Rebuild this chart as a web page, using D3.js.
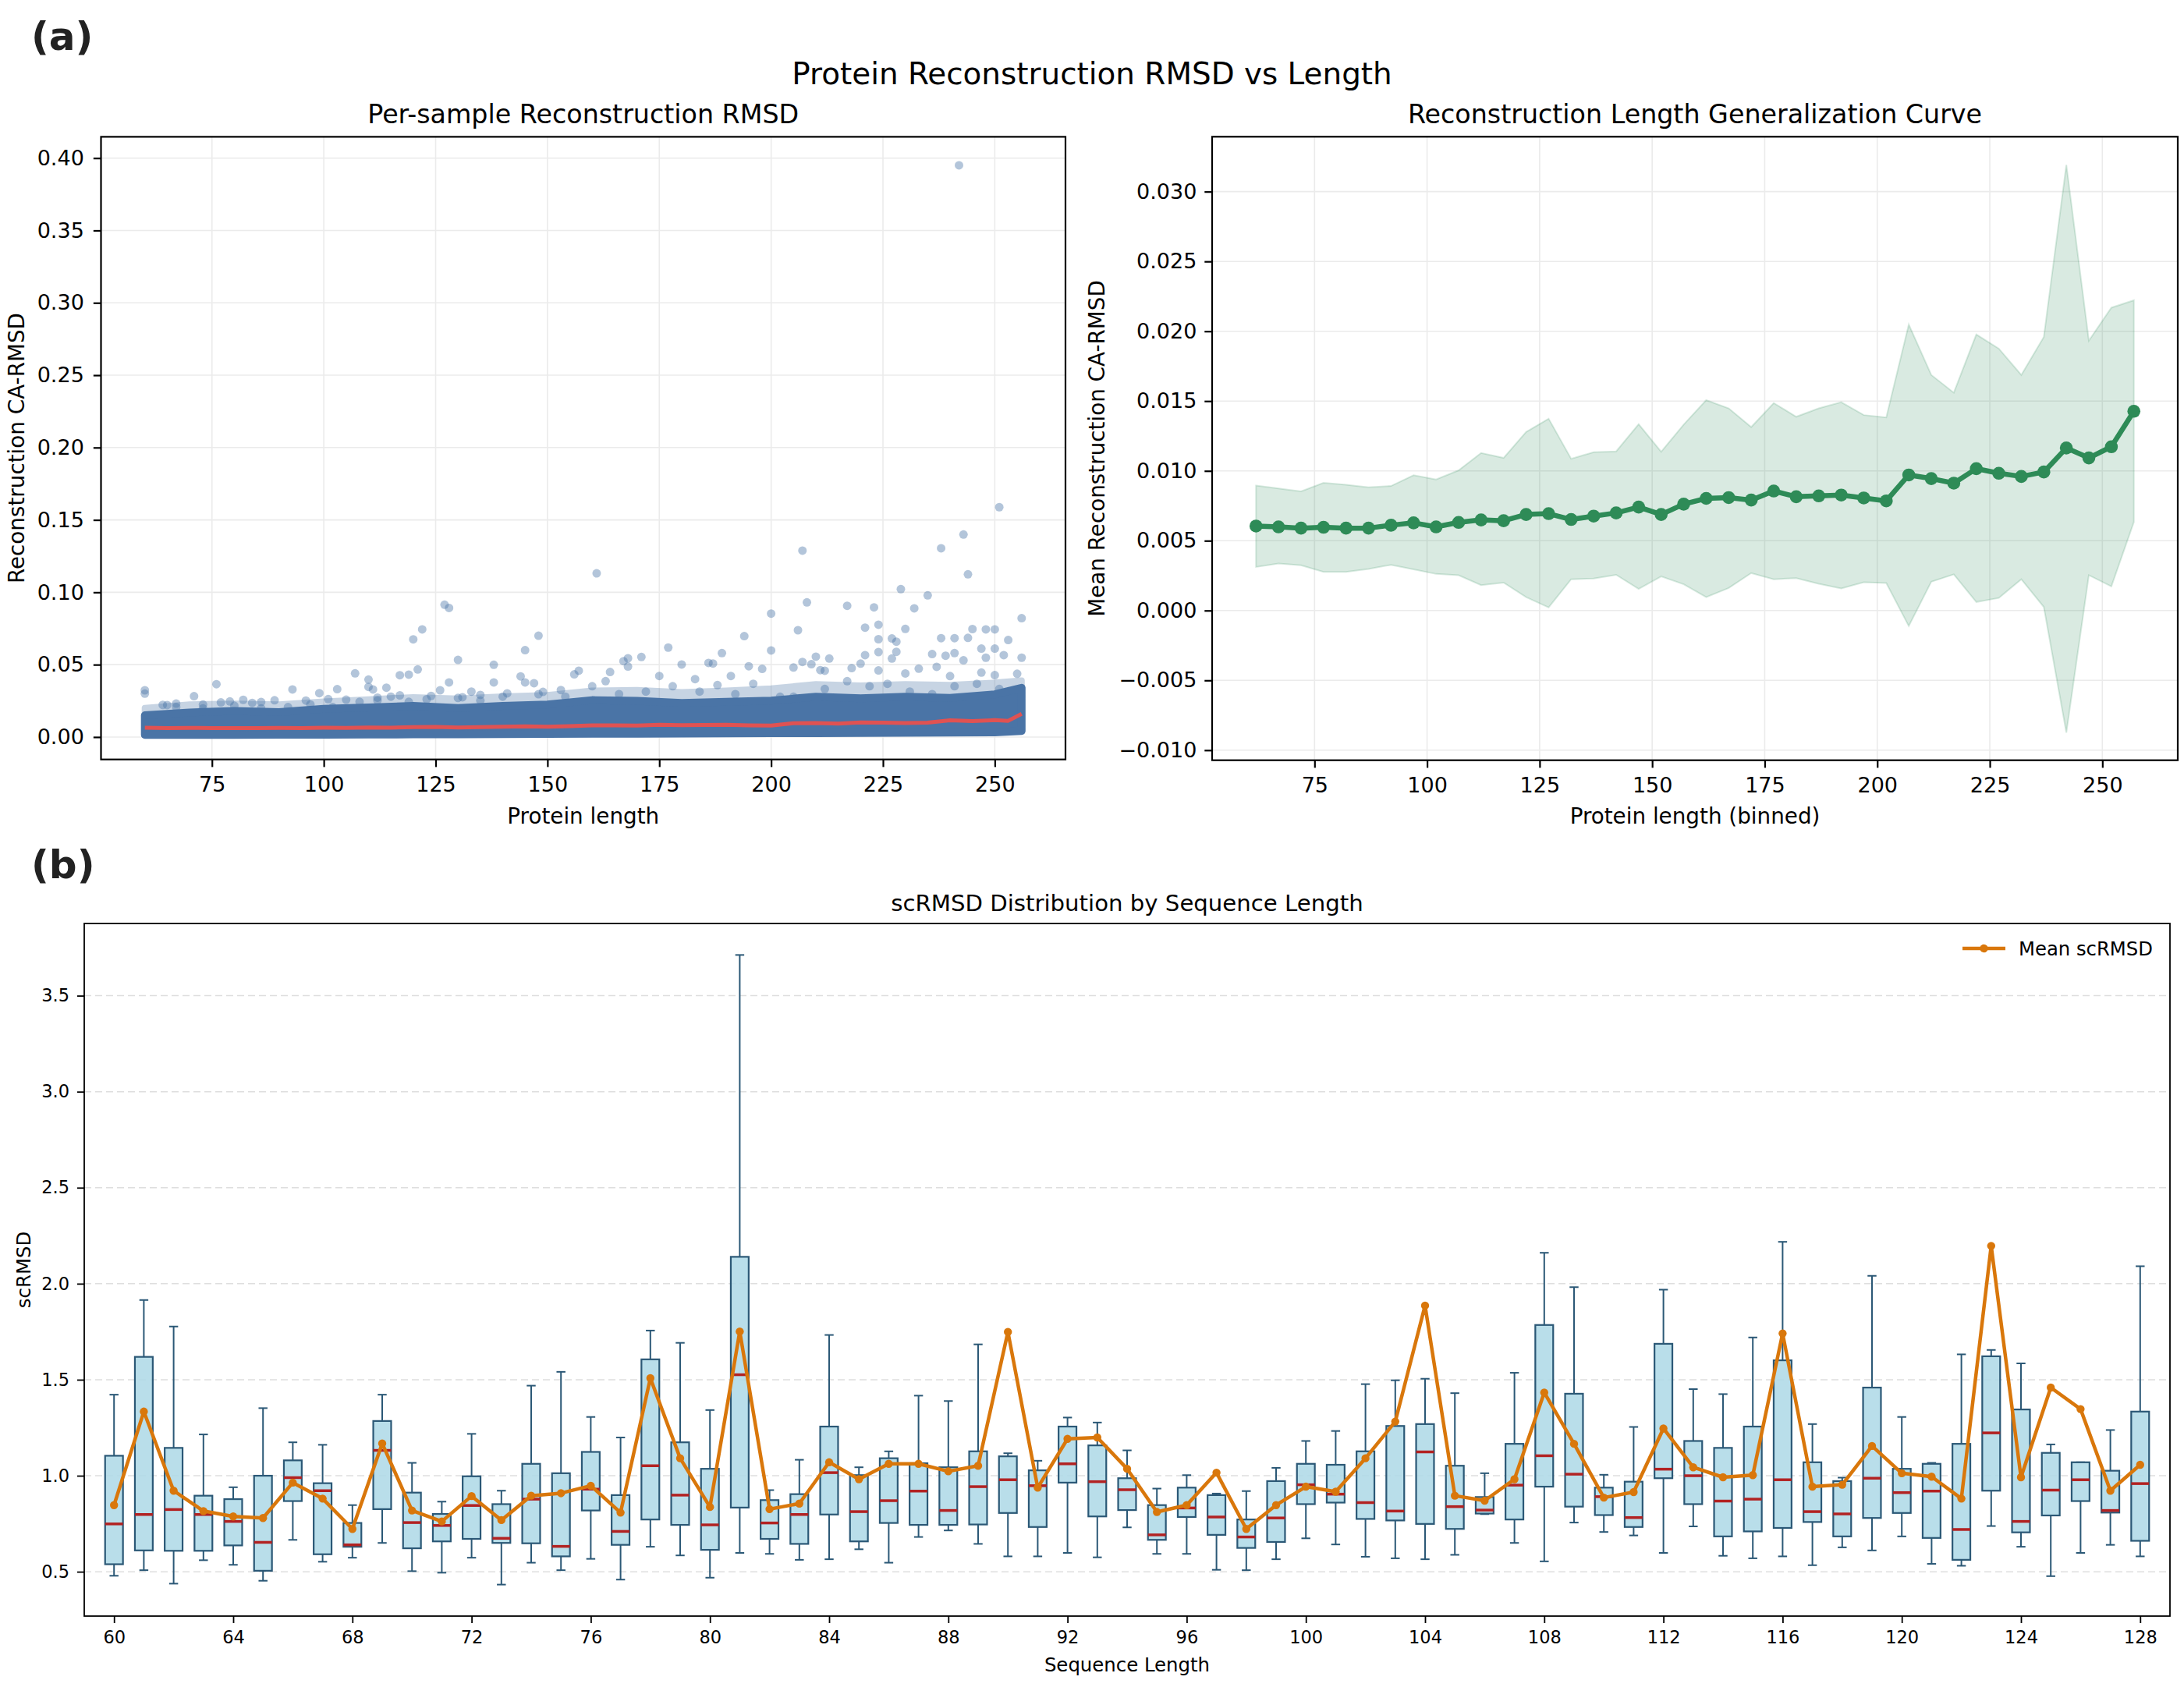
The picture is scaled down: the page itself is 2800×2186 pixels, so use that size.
<!DOCTYPE html>
<html>
<head>
<meta charset="utf-8" />
<title>Protein Reconstruction RMSD vs Length</title>
<script src="https://cdn.jsdelivr.net/npm/d3@7"></script>
<style>
  body { margin: 0; padding: 0; background: #fff; }
  svg { display: block; }
</style>
</head>
<body>
<script>

// ---------- (a) left: per-sample scatter ----------
var lenTicks = [75, 100, 125, 150, 175, 200, 225, 250];
var rmsdTicks = [0, 0.05, 0.10, 0.15, 0.20, 0.25, 0.30, 0.35, 0.40];

// dense core of the cloud, read every ~10 residues
var bandLen  = [60, 70, 80, 90, 100, 110, 120, 130, 140, 150, 160, 170, 180, 190, 200, 210, 220, 230, 240, 250, 256];
var bandLo   = [0.0015, 0.0015, 0.0015, 0.0016, 0.0016, 0.0017, 0.0018, 0.0019, 0.0020, 0.0021, 0.0022, 0.0023, 0.0024, 0.0025, 0.0026, 0.0027, 0.0028, 0.0029, 0.0030, 0.0032, 0.0041];
var bandHi   = [0.0150, 0.0170, 0.0180, 0.0172, 0.0195, 0.0205, 0.0215, 0.0200, 0.0215, 0.0225, 0.0255, 0.0250, 0.0235, 0.0243, 0.0252, 0.0278, 0.0268, 0.0278, 0.0270, 0.0295, 0.0340];
var haloHi   = [0.0200, 0.0225, 0.0230, 0.0225, 0.0245, 0.0260, 0.0275, 0.0265, 0.0280, 0.0290, 0.0320, 0.0325, 0.0310, 0.0320, 0.0335, 0.0365, 0.0355, 0.0365, 0.0360, 0.0375, 0.0390];

// sparse points above the core [length, rmsd]
var sparsePoints = [
  [60, 0.0323], [60, 0.0300], [76, 0.0365], [71, 0.0282], [93, 0.0329], [99, 0.0303], [103, 0.0331],
  [107, 0.0440], [110, 0.0397], [110, 0.0346], [114, 0.0341], [117, 0.0427], [119, 0.0431], [121, 0.0467],
  [120, 0.0675], [122, 0.0744], [127, 0.0914], [128, 0.0892], [130, 0.0533], [128, 0.0377], [126, 0.0323],
  [138, 0.0499], [138, 0.0377], [145, 0.0600], [148, 0.0700], [144, 0.0419], [145, 0.0377], [147, 0.0372],
  [133, 0.0314], [156, 0.0433], [157, 0.0458], [153, 0.0325], [115, 0.0279], [117, 0.0288], [111, 0.0329],
  [82, 0.0257], [89, 0.0254], [77, 0.0239], [65, 0.0221], [64, 0.0222], [67, 0.0231], [73, 0.0224],
  [79, 0.0246], [84, 0.0236], [86, 0.0242], [96, 0.0252], [101, 0.0262], [105, 0.0258], [112, 0.0272],
  [124, 0.0284], [131, 0.0275], [135, 0.0291], [141, 0.0302], [149, 0.0312],
  [67, 0.0207], [73, 0.0198], [80, 0.0216], [86, 0.0198], [92, 0.0207], [97, 0.0225], [102, 0.0207],
  [108, 0.0243], [112, 0.0252], [119, 0.0243], [123, 0.0261], [130, 0.0270], [135, 0.0252], [140, 0.0279],
  [148, 0.0296], [154, 0.0279],
  [160, 0.0351], [166, 0.0296], [172, 0.0314], [178, 0.0351], [184, 0.0314], [188, 0.0359], [192, 0.0296],
  [196, 0.0368], [202, 0.0278], [205, 0.0278], [212, 0.0332], [217, 0.0386], [222, 0.0351], [226, 0.0368],
  [231, 0.0314], [236, 0.0296], [241, 0.0351], [246, 0.0368], [251, 0.0332], [255, 0.0296],
  [161, 0.1131], [207, 0.1288], [243, 0.1399], [238, 0.1304], [244, 0.1124], [208, 0.0930], [200, 0.0853],
  [229, 0.1022], [235, 0.0979], [217, 0.0907], [223, 0.0896], [232, 0.0889], [256, 0.0821], [206, 0.0738],
  [245, 0.0746], [248, 0.0744], [250, 0.0744], [221, 0.0756], [224, 0.0776], [230, 0.0747], [194, 0.0697],
  [238, 0.0683], [241, 0.0683], [244, 0.0685], [253, 0.0670], [177, 0.0618], [189, 0.0580], [200, 0.0598],
  [224, 0.0676], [227, 0.0681], [228, 0.0659], [224, 0.0587], [228, 0.0589], [227, 0.0542], [221, 0.0566],
  [236, 0.0573], [239, 0.0562], [241, 0.0580], [247, 0.0611], [250, 0.0611], [256, 0.0548], [248, 0.0548],
  [252, 0.0566], [243, 0.0530], [210, 0.0555], [213, 0.0542], [171, 0.0553], [168, 0.0544], [167, 0.0524],
  [168, 0.0487], [164, 0.0449], [180, 0.0501], [186, 0.0512], [187, 0.0508], [195, 0.0489], [198, 0.0471],
  [205, 0.0480], [207, 0.0519], [209, 0.0503], [211, 0.0462], [218, 0.0476], [220, 0.0507], [233, 0.0472],
  [237, 0.0485], [247, 0.0445], [255, 0.0437], [250, 0.0428], [240, 0.0421], [230, 0.0439], [224, 0.0460],
  [212, 0.0458], [191, 0.0422], [175, 0.0422], [163, 0.0386], [183, 0.0400],
  [242, 0.3950], [251, 0.1588]
];

// rolling mean (red line) [length, rmsd]
var rollingMean = [
  [60, 0.0064], [65, 0.0062], [70, 0.0063], [75, 0.0062], [80, 0.0061], [85, 0.0062], [90, 0.0063],
  [95, 0.0062], [100, 0.0064], [105, 0.0063], [110, 0.0066], [115, 0.0065], [120, 0.0068], [125, 0.0070],
  [130, 0.0066], [135, 0.0069], [140, 0.0071], [145, 0.0074], [150, 0.0071], [155, 0.0075], [160, 0.0080],
  [165, 0.0081], [170, 0.0079], [175, 0.0085], [180, 0.0082], [185, 0.0083], [190, 0.0084], [195, 0.0081],
  [200, 0.0079], [205, 0.0095], [210, 0.0096], [215, 0.0092], [220, 0.0101], [225, 0.0099], [230, 0.0097],
  [235, 0.0099], [240, 0.0115], [245, 0.0110], [250, 0.0117], [253, 0.0112], [256, 0.0160]
];

// ---------- (a) right: binned curve ----------
var curveTicks = [-0.010, -0.005, 0, 0.005, 0.010, 0.015, 0.020, 0.025, 0.030];
var binLen   = [62, 67, 72, 77, 82, 87, 92, 97, 102, 107, 112, 117, 122, 127, 132, 137, 142, 147, 152, 157,
                162, 167, 172, 177, 182, 187, 192, 197, 202, 207, 212, 217, 222, 227, 232, 237, 242, 247, 252, 257];
var binMean  = [0.00605, 0.00599, 0.00590, 0.00596, 0.00590, 0.00590, 0.00611, 0.00628, 0.00599, 0.00631,
                0.00649, 0.00643, 0.00688, 0.00694, 0.00652, 0.00676, 0.00699, 0.00741, 0.00688, 0.00762,
                0.00803, 0.00809, 0.00791, 0.00856, 0.00815, 0.00821, 0.00827, 0.00806, 0.00785, 0.00971,
                0.00945, 0.00912, 0.01016, 0.00983, 0.00960, 0.00992, 0.01164, 0.01093, 0.01173, 0.01427];
var binUpper = [0.00895, 0.00874, 0.00853, 0.00915, 0.00901, 0.00883, 0.00892, 0.00969, 0.00939, 0.01004,
                0.01128, 0.01093, 0.01279, 0.01374, 0.01087, 0.01134, 0.01140, 0.01335, 0.01137, 0.01332,
                0.01507, 0.01448, 0.01314, 0.01486, 0.01388, 0.01448, 0.01492, 0.01400, 0.01383, 0.02048,
                0.01687, 0.01560, 0.01977, 0.01876, 0.01687, 0.01959, 0.03192, 0.01933, 0.02169, 0.02222];
var binLower = [0.00312, 0.00336, 0.00324, 0.00277, 0.00277, 0.00298, 0.00327, 0.00295, 0.00262, 0.00253,
                0.00182, 0.00200, 0.00096, 0.00022, 0.00224, 0.00229, 0.00256, 0.00155, 0.00244, 0.00188,
                0.00096, 0.00161, 0.00268, 0.00224, 0.00232, 0.00191, 0.00158, 0.00203, 0.00197, -0.00111,
                0.00206, 0.00259, 0.00061, 0.00090, 0.00224, 0.00025, -0.00874, 0.00253, 0.00173, 0.00634];

// ---------- (b) scRMSD box plot ----------
var seqTicks = [60, 64, 68, 72, 76, 80, 84, 88, 92, 96, 100, 104, 108, 112, 116, 120, 124, 128];
var scTicks  = [0.5, 1.0, 1.5, 2.0, 2.5, 3.0, 3.5];
var seqLen = [60, 61, 62, 63, 64, 65, 66, 67, 68, 69, 70, 71, 72, 73, 74, 75, 76, 77, 78, 79, 80, 81, 82,
              83, 84, 85, 86, 87, 88, 89, 90, 91, 92, 93, 94, 95, 96, 97, 98, 99, 100, 101, 102, 103, 104,
              105, 106, 107, 108, 109, 110, 111, 112, 113, 114, 115, 116, 117, 118, 119, 120, 121, 122, 123,
              124, 125, 126, 127, 128];
var whiskLo = [0.479, 0.508, 0.438, 0.560, 0.536, 0.453, 0.666, 0.552, 0.573, 0.650, 0.503, 0.495, 0.573, 0.433,
               0.547, 0.508, 0.567, 0.459, 0.630, 0.585, 0.469, 0.598, 0.593, 0.562, 0.565, 0.617, 0.547, 0.681,
               0.715, 0.645, 0.580, 0.580, 0.598, 0.575, 0.731, 0.593, 0.593, 0.510, 0.508, 0.565, 0.674, 0.642,
               0.578, 0.570, 0.565, 0.588, 0.800, 0.650, 0.554, 0.756, 0.707, 0.689, 0.598, 0.736, 0.583, 0.570,
               0.580, 0.534, 0.627, 0.611, 0.684, 0.541, 0.531, 0.738, 0.630, 0.477, 0.598, 0.640, 0.580];
var q1      = [0.539, 0.611, 0.609, 0.609, 0.637, 0.505, 0.868, 0.591, 0.630, 0.826, 0.622, 0.658, 0.671, 0.650,
               0.648, 0.580, 0.819, 0.640, 0.772, 0.744, 0.614, 0.834, 0.671, 0.645, 0.798, 0.658, 0.754, 0.744,
               0.744, 0.746, 0.806, 0.733, 0.964, 0.788, 0.821, 0.666, 0.785, 0.692, 0.624, 0.655, 0.852, 0.860,
               0.775, 0.767, 0.749, 0.723, 0.803, 0.772, 0.943, 0.839, 0.795, 0.733, 0.987, 0.852, 0.684, 0.710,
               0.728, 0.759, 0.684, 0.780, 0.806, 0.676, 0.562, 0.922, 0.705, 0.793, 0.868, 0.808, 0.661];
var median  = [0.749, 0.798, 0.824, 0.798, 0.762, 0.653, 0.990, 0.922, 0.640, 1.132, 0.756, 0.741, 0.845, 0.674,
               0.878, 0.632, 0.930, 0.710, 1.052, 0.899, 0.744, 1.526, 0.754, 0.798, 1.016, 0.813, 0.870, 0.920,
               0.819, 0.943, 0.979, 0.948, 1.062, 0.969, 0.927, 0.692, 0.832, 0.785, 0.681, 0.780, 0.953, 0.904,
               0.860, 0.816, 1.124, 0.839, 0.821, 0.951, 1.104, 1.008, 0.891, 0.782, 1.034, 1.000, 0.868, 0.878,
               0.979, 0.813, 0.801, 0.987, 0.912, 0.920, 0.720, 1.223, 0.762, 0.925, 0.979, 0.819, 0.959];
var q3      = [1.104, 1.619, 1.145, 0.896, 0.878, 1.000, 1.080, 0.961, 0.754, 1.285, 0.912, 0.801, 0.997, 0.852,
               1.062, 1.013, 1.124, 0.899, 1.606, 1.174, 1.036, 2.140, 0.873, 0.904, 1.256, 1.003, 1.091, 1.065,
               1.044, 1.127, 1.101, 1.028, 1.256, 1.158, 0.987, 0.847, 0.938, 0.899, 0.772, 0.972, 1.062, 1.057,
               1.127, 1.259, 1.269, 1.052, 0.889, 1.166, 1.785, 1.427, 0.938, 0.969, 1.687, 1.181, 1.145, 1.256,
               1.601, 1.070, 0.972, 1.459, 1.036, 1.062, 1.166, 1.622, 1.345, 1.119, 1.070, 1.026, 1.334];
var whiskHi = [1.422, 1.915, 1.777, 1.215, 0.940, 1.352, 1.174, 1.161, 0.847, 1.422, 1.067, 0.865, 1.218, 0.922,
               1.469, 1.541, 1.306, 1.199, 1.756, 1.692, 1.342, 3.712, 0.925, 1.083, 1.733, 1.044, 1.127, 1.417,
               1.389, 1.684, 1.117, 1.078, 1.303, 1.277, 1.132, 0.933, 1.003, 0.907, 0.920, 1.041, 1.181, 1.233,
               1.477, 1.497, 1.505, 1.430, 1.013, 1.536, 2.161, 1.982, 1.005, 1.254, 1.969, 1.451, 1.425, 1.720,
               2.218, 1.269, 0.990, 2.041, 1.306, 1.067, 1.632, 1.655, 1.585, 1.163, 1.070, 1.238, 2.091];
var meanSc  = [0.847, 1.334, 0.922, 0.816, 0.788, 0.780, 0.964, 0.881, 0.723, 1.168, 0.819, 0.762, 0.894, 0.769,
               0.896, 0.909, 0.948, 0.808, 1.508, 1.091, 0.837, 1.751, 0.826, 0.855, 1.070, 0.982, 1.062, 1.062,
               1.023, 1.052, 1.749, 0.938, 1.192, 1.199, 1.036, 0.811, 0.847, 1.016, 0.723, 0.847, 0.943, 0.917,
               1.091, 1.282, 1.886, 0.896, 0.870, 0.982, 1.433, 1.166, 0.886, 0.915, 1.246, 1.044, 0.992, 1.003,
               1.741, 0.943, 0.953, 1.155, 1.013, 0.995, 0.881, 2.197, 0.992, 1.459, 1.347, 0.922, 1.057];

var FONT = "'DejaVu Sans', sans-serif";

var svg = d3.select("body").append("svg")
    .attr("width", 2800)
    .attr("height", 2186)
    .style("font-family", FONT);

svg.append("rect").attr("width", 2800).attr("height", 2186).attr("fill", "#fff");

// draws grid, ticks and frame for one axes box
function axesBox(x, y, opt) {
  var g = svg.append("g");
  var xl = x.range()[0], xr = x.range()[1], yb = y.range()[0], yt = y.range()[1];

  if (opt.gridX) {
    g.append("g").selectAll("line").data(opt.xTicks).enter().append("line")
      .attr("x1", function(d) { return x(d); }).attr("x2", function(d) { return x(d); })
      .attr("y1", yt).attr("y2", yb)
      .attr("stroke", opt.gridColor).attr("stroke-width", opt.gridWidth);
  }
  g.append("g").selectAll("line").data(opt.yTicks).enter().append("line")
    .attr("x1", xl).attr("x2", xr)
    .attr("y1", function(d) { return y(d); }).attr("y2", function(d) { return y(d); })
    .attr("stroke", opt.gridColor).attr("stroke-width", opt.gridWidth)
    .attr("stroke-dasharray", opt.gridDash || null);

  var ax = g.append("g").attr("transform", "translate(0," + yb + ")")
    .call(d3.axisBottom(x).tickValues(opt.xTicks).tickFormat(opt.xFmt || d3.format("d"))
      .tickSize(opt.tickLen).tickPadding(opt.xPad));
  var ay = g.append("g").attr("transform", "translate(" + xl + ",0)")
    .call(d3.axisLeft(y).tickValues(opt.yTicks).tickFormat(opt.yFmt)
      .tickSize(opt.tickLen).tickPadding(opt.yPad));

  [ax, ay].forEach(function(a) {
    a.attr("font-family", FONT).attr("font-size", opt.tickFont);
    a.select(".domain").remove();
    a.selectAll(".tick line").attr("stroke", "#000").attr("stroke-width", opt.spineWidth);
    a.selectAll(".tick text").attr("fill", "#000");
  });
  return g;
}

function frame(x, y, w) {
  svg.append("rect")
    .attr("x", x.range()[0]).attr("y", y.range()[1])
    .attr("width", x.range()[1] - x.range()[0])
    .attr("height", y.range()[0] - y.range()[1])
    .attr("fill", "none").attr("stroke", "#000").attr("stroke-width", w);
}

function label(txt, x, y, size, opts) {
  opts = opts || {};
  var t = svg.append("text")
    .attr("x", x).attr("y", y)
    .attr("font-size", size)
    .attr("text-anchor", opts.anchor || "middle")
    .attr("fill", opts.fill || "#000")
    .attr("font-weight", opts.weight || "normal")
    .text(txt);
  if (opts.rotate) t.attr("transform", "rotate(-90," + x + "," + y + ")");
  return t;
}

// ---------------- headings ----------------
label("(a)", 40, 64, 50, { anchor: "start", weight: "bold", fill: "#222" });
label("(b)", 40, 1126, 50, { anchor: "start", weight: "bold", fill: "#222" });
label("Protein Reconstruction RMSD vs Length", 1400, 108, 38.9);

// ---------------- (a) left ----------------
var xA = d3.scaleLinear().domain([50.2, 265.8]).range([129.5, 1366]);
var yA = d3.scaleLinear().domain([-0.0155, 0.4147]).range([973.7, 175.4]);

axesBox(xA, yA, {
  xTicks: lenTicks, yTicks: rmsdTicks, yFmt: d3.format(".2f"),
  gridX: true, gridColor: "#ebebeb", gridWidth: 1.6,
  tickLen: 9.7, xPad: 12, yPad: 12, tickFont: 27, spineWidth: 2.2
});

var ptColor = "#4a74a6";
var haloArea = d3.area()
  .x(function(d, i) { return xA(bandLen[i]); })
  .y0(function(d, i) { return yA(bandLo[i]); })
  .y1(function(d, i) { return yA(haloHi[i]); });
var coreArea = d3.area()
  .x(function(d, i) { return xA(bandLen[i]); })
  .y0(function(d, i) { return yA(bandLo[i]); })
  .y1(function(d, i) { return yA(bandHi[i]); });

svg.append("g").attr("opacity", 0.3)
  .append("path").datum(bandLen).attr("d", haloArea)
  .attr("fill", ptColor).attr("stroke", ptColor)
  .attr("stroke-width", 8).attr("stroke-linejoin", "round");

svg.append("g").selectAll("circle").data(sparsePoints).enter().append("circle")
  .attr("cx", function(d) { return xA(d[0]); })
  .attr("cy", function(d) { return yA(d[1]); })
  .attr("r", 5.5)
  .attr("fill", ptColor).attr("fill-opacity", 0.42);

svg.append("path").datum(bandLen).attr("d", coreArea)
  .attr("fill", ptColor).attr("stroke", ptColor)
  .attr("stroke-width", 10).attr("stroke-linejoin", "round");

svg.append("path").datum(rollingMean)
  .attr("d", d3.line().x(function(d) { return xA(d[0]); }).y(function(d) { return yA(d[1]); }))
  .attr("fill", "none").attr("stroke", "#e05252").attr("stroke-width", 5)
  .attr("stroke-linejoin", "round");

frame(xA, yA, 2.2);
label("Per-sample Reconstruction RMSD", (129.5 + 1366) / 2, 158, 33.3);
label("Protein length", (129.5 + 1366) / 2, 1056, 27.8);
label("Reconstruction CA-RMSD", 31, (175.4 + 973.7) / 2, 27.8, { rotate: true });

// ---------------- (a) right ----------------
var xC = d3.scaleLinear().domain([52.25, 266.75]).range([1554, 2792]);
var yC = d3.scaleLinear().domain([-0.01072, 0.03393]).range([974.7, 175.3]);

axesBox(xC, yC, {
  xTicks: lenTicks, yTicks: curveTicks, yFmt: d3.format(".3f"),
  gridX: true, gridColor: "#ebebeb", gridWidth: 1.6,
  tickLen: 9.7, xPad: 12, yPad: 10, tickFont: 27, spineWidth: 2.2
});

var green = "#2e8b57";
svg.append("path").datum(binLen)
  .attr("d", d3.area()
    .x(function(d) { return xC(d); })
    .y0(function(d, i) { return yC(binLower[i]); })
    .y1(function(d, i) { return yC(binUpper[i]); }))
  .attr("fill", green).attr("fill-opacity", 0.18)
  .attr("stroke", green).attr("stroke-opacity", 0.18).attr("stroke-width", 2);

svg.append("path").datum(binLen)
  .attr("d", d3.line().x(function(d) { return xC(d); }).y(function(d, i) { return yC(binMean[i]); }))
  .attr("fill", "none").attr("stroke", green).attr("stroke-width", 6.5)
  .attr("stroke-linejoin", "round");

svg.append("g").selectAll("circle").data(binLen).enter().append("circle")
  .attr("cx", function(d) { return xC(d); })
  .attr("cy", function(d, i) { return yC(binMean[i]); })
  .attr("r", 8.3).attr("fill", green);

frame(xC, yC, 2.2);
label("Reconstruction Length Generalization Curve", (1554 + 2792) / 2, 158, 33.3);
label("Protein length (binned)", (1554 + 2792) / 2, 1056, 27.8);
label("Mean Reconstruction CA-RMSD", 1416, (175.3 + 974.7) / 2, 27.8, { rotate: true });

// ---------------- (b) ----------------
var xB = d3.scaleLinear().domain([59, 129]).range([108, 2782]);
var yB = d3.scaleLinear().domain([0.269, 3.876]).range([2072, 1184]);

axesBox(xB, yB, {
  xTicks: seqTicks, yTicks: scTicks, yFmt: d3.format(".1f"),
  gridX: false, gridColor: "#dedede", gridWidth: 1.5, gridDash: "9,5",
  tickLen: 9, xPad: 10, yPad: 10, tickFont: 22.5, spineWidth: 1.8
});

var edge = "#2b5876";
var half = (xB(1) - xB(0)) * 0.3;
var capHalf = (xB(1) - xB(0)) * 0.15;

var boxes = svg.append("g").selectAll("g").data(seqLen).enter().append("g");

boxes.append("line")
  .attr("x1", function(d) { return xB(d); }).attr("x2", function(d) { return xB(d); })
  .attr("y1", function(d, i) { return yB(whiskLo[i]); }).attr("y2", function(d, i) { return yB(q1[i]); })
  .attr("stroke", edge).attr("stroke-width", 2);
boxes.append("line")
  .attr("x1", function(d) { return xB(d); }).attr("x2", function(d) { return xB(d); })
  .attr("y1", function(d, i) { return yB(q3[i]); }).attr("y2", function(d, i) { return yB(whiskHi[i]); })
  .attr("stroke", edge).attr("stroke-width", 2);
boxes.append("line")
  .attr("x1", function(d) { return xB(d) - capHalf; }).attr("x2", function(d) { return xB(d) + capHalf; })
  .attr("y1", function(d, i) { return yB(whiskLo[i]); }).attr("y2", function(d, i) { return yB(whiskLo[i]); })
  .attr("stroke", edge).attr("stroke-width", 2);
boxes.append("line")
  .attr("x1", function(d) { return xB(d) - capHalf; }).attr("x2", function(d) { return xB(d) + capHalf; })
  .attr("y1", function(d, i) { return yB(whiskHi[i]); }).attr("y2", function(d, i) { return yB(whiskHi[i]); })
  .attr("stroke", edge).attr("stroke-width", 2);
boxes.append("rect")
  .attr("x", function(d) { return xB(d) - half; })
  .attr("width", half * 2)
  .attr("y", function(d, i) { return yB(q3[i]); })
  .attr("height", function(d, i) { return yB(q1[i]) - yB(q3[i]); })
  .attr("fill", "#add8e6").attr("fill-opacity", 0.85)
  .attr("stroke", edge).attr("stroke-width", 2.2);
boxes.append("line")
  .attr("x1", function(d) { return xB(d) - half; }).attr("x2", function(d) { return xB(d) + half; })
  .attr("y1", function(d, i) { return yB(median[i]); }).attr("y2", function(d, i) { return yB(median[i]); })
  .attr("stroke", "#b22222").attr("stroke-width", 3.5);

var orange = "#d9770b";
svg.append("path").datum(seqLen)
  .attr("d", d3.line().x(function(d) { return xB(d); }).y(function(d, i) { return yB(meanSc[i]); }))
  .attr("fill", "none").attr("stroke", orange).attr("stroke-width", 4.5)
  .attr("stroke-linejoin", "round");
svg.append("g").selectAll("circle").data(seqLen).enter().append("circle")
  .attr("cx", function(d) { return xB(d); })
  .attr("cy", function(d, i) { return yB(meanSc[i]); })
  .attr("r", 5.2).attr("fill", orange);

frame(xB, yB, 1.8);

// legend
svg.append("line").attr("x1", 2516).attr("x2", 2571).attr("y1", 1216).attr("y2", 1216)
  .attr("stroke", orange).attr("stroke-width", 4.5);
svg.append("circle").attr("cx", 2543.5).attr("cy", 1216).attr("r", 5.2).attr("fill", orange);
label("Mean scRMSD", 2588, 1224.5, 24.3, { anchor: "start" });

label("scRMSD Distribution by Sequence Length", (108 + 2782) / 2, 1168, 29.2);
label("Sequence Length", (108 + 2782) / 2, 2143, 24.4);
label("scRMSD", 39, (1184 + 2072) / 2, 24.4, { rotate: true });

</script>
</body>
</html>
